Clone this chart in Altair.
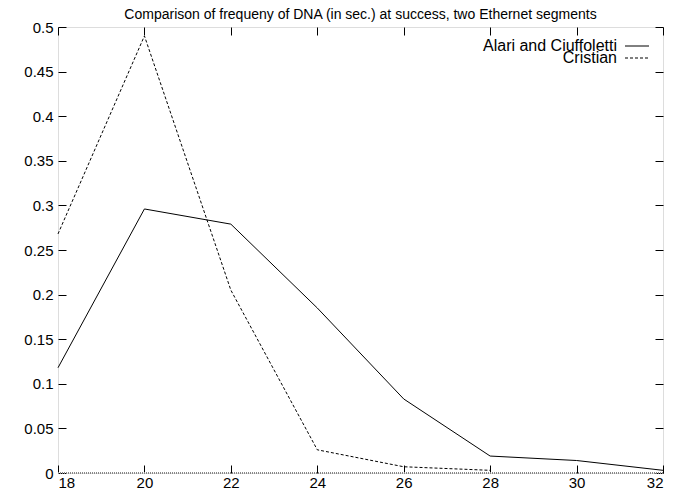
import altair as alt
import pandas as pd

FONT = "Liberation Sans"

x_vals = [18, 20, 22, 24, 26, 28, 30, 32]
alari = [0.118, 0.296, 0.279, 0.185, 0.083, 0.019, 0.014, 0.003]
cristian_x = [18, 20, 22, 24, 26, 28]
cristian = [0.268, 0.490, 0.205, 0.026, 0.007, 0.003]
x_ticks = [18, 20, 22, 24, 26, 28, 30, 32]
y_ticks = [0, 0.05, 0.1, 0.15, 0.2, 0.25, 0.3, 0.35, 0.4, 0.45, 0.5]
series_names = ["Alari and Ciuffoletti", "Cristian"]
title_text = "Comparison of frequeny of DNA (in sec.) at success, two Ethernet segments"

df_a = pd.DataFrame({"x": x_vals, "y": alari})
df_c = pd.DataFrame({"x": cristian_x, "y": cristian})

xs = alt.Scale(domain=[18, 32], nice=False, zero=False)
ys = alt.Scale(domain=[0, 0.5], nice=False)

common_axis = dict(tickSize=8, offset=-8, domain=False, grid=False, title=None,
                   tickColor="black", labelColor="black", labelFont=FONT,
                   labelFontSize=15, tickWidth=1)

x_bottom = alt.Axis(orient="bottom", values=x_ticks, labelPadding=2, **common_axis)
x_top = alt.Axis(orient="top", values=x_ticks, labels=False, **common_axis)
y_left = alt.Axis(orient="left", values=y_ticks, format=".2~f", labelPadding=5, **common_axis)
y_right = alt.Axis(orient="right", values=y_ticks, labels=False, **common_axis)

line_a = alt.Chart(df_a).mark_line(color="black", strokeWidth=1).encode(
    x=alt.X("x:Q", scale=xs, axis=x_bottom),
    y=alt.Y("y:Q", scale=ys, axis=y_left),
)
line_c = alt.Chart(df_c).mark_line(color="black", strokeWidth=1, strokeDash=[3, 2]).encode(
    x=alt.X("x:Q", scale=xs, axis=x_top),
    y=alt.Y("y:Q", scale=ys, axis=y_right),
)

zero_rule = alt.Chart(pd.DataFrame({"y": [0]})).mark_rule(
    color="#888888", strokeWidth=2, strokeDash=[1, 1]
).encode(y=alt.Y("y:Q", scale=ys, axis=None))

LEG_X_TEXT = 559
LEG_X1, LEG_X2 = 567, 591
LEG_Y1, LEG_Y2 = 19, 31

leg_a_text = alt.Chart(pd.DataFrame({"t": [series_names[0]]})).mark_text(
    align="right", baseline="middle", font=FONT, fontSize=16, color="black"
).encode(text="t:N", x=alt.value(LEG_X_TEXT), y=alt.value(LEG_Y1))
leg_c_text = alt.Chart(pd.DataFrame({"t": [series_names[1]]})).mark_text(
    align="right", baseline="middle", font=FONT, fontSize=16, color="black"
).encode(text="t:N", x=alt.value(LEG_X_TEXT), y=alt.value(LEG_Y2))
leg_a_line = alt.Chart(pd.DataFrame({"t": [series_names[0]]})).mark_rule(
    color="black", strokeWidth=1
).encode(x=alt.value(LEG_X1), x2=alt.value(LEG_X2), y=alt.value(LEG_Y1))
leg_c_line = alt.Chart(pd.DataFrame({"t": [series_names[1]]})).mark_rule(
    color="black", strokeWidth=1, strokeDash=[3, 2]
).encode(x=alt.value(LEG_X1), x2=alt.value(LEG_X2), y=alt.value(LEG_Y2))

chart = alt.layer(
    zero_rule, line_a, line_c, leg_a_text, leg_c_text, leg_a_line, leg_c_line
).resolve_axis(x="independent", y="independent").properties(
    width=605, height=446,
    title=alt.TitleParams(title_text, font=FONT, fontSize=14, fontWeight="normal",
                          color="black", anchor="middle", offset=-2),
    autosize=alt.AutoSizeParams(type="none"),
    padding={"left": 50, "top": 19, "right": 17, "bottom": 17},
).configure_view(stroke="black", strokeWidth=1).configure(background="white")

chart.save("out.html", embed_options={"renderer": "svg", "actions": False})
